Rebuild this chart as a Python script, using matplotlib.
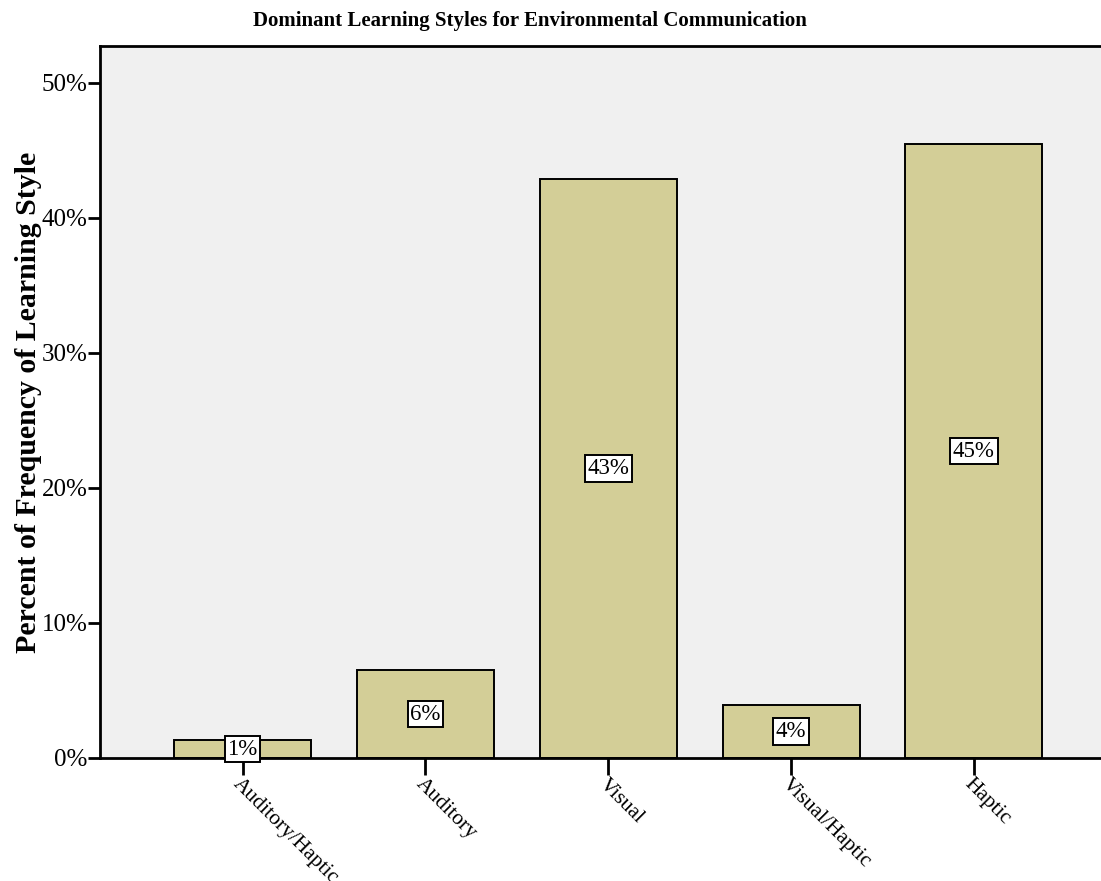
import matplotlib
matplotlib.use("Agg")
import matplotlib.pyplot as plt

styles = ["Auditory/Haptic", "Auditory", "Visual", "Visual/Haptic", "Haptic"]
percent = [1.3, 6.49, 42.86, 3.9, 45.45]
yticks = [0, 10, 20, 30, 40, 50]

plt.rcParams["font.family"] = ["Liberation Serif", "DejaVu Serif"]

fig = plt.figure(figsize=(11.01, 8.81), dpi=100)
ax = fig.add_axes([100 / 1101, 1 - 758 / 881, 1 - 100 / 1101, (758 - 46) / 881])
ax.set_facecolor("#f0f0f0")

x = list(range(len(styles)))
ax.bar(x, percent, width=0.75, color="#d3ce97", edgecolor="black", linewidth=1.4, zorder=2)

# value labels sit half way up each bar
for xi, v in zip(x, percent):
    ax.text(xi, v / 2, f"{v:.0f}%", ha="center", va="center", fontsize=16.5, zorder=4,
            clip_on=False,
            bbox=dict(boxstyle="square,pad=0.12", fc="white", ec="black", lw=1.4))

ax.set_xlim(-0.78, 4.695)
ax.set_ylim(0, 52.74)
ax.set_yticks(yticks)
ax.set_yticklabels([f"{t}%" for t in yticks], fontsize=18)
ax.set_xticks(x)
ax.set_xticklabels(styles, fontsize=15.5, rotation=-45, ha="left", va="top",
                   rotation_mode="anchor")
ax.tick_params(axis="y", direction="out", length=9, width=2, pad=0)
ax.tick_params(axis="x", direction="out", length=12, width=2, pad=0)

for s in ["left", "bottom", "top"]:
    ax.spines[s].set_linewidth(2)
ax.spines["right"].set_visible(False)

ax.set_ylabel("Percent of Frequency of Learning Style", fontsize=21.5, fontweight="bold",
              labelpad=0)
fig.text(530 / 1101, 1 - 21 / 881, "Dominant Learning Styles for Environmental Communication",
         ha="center", va="center", fontsize=15, fontweight="bold")

fig.savefig("out.png", dpi=100)
